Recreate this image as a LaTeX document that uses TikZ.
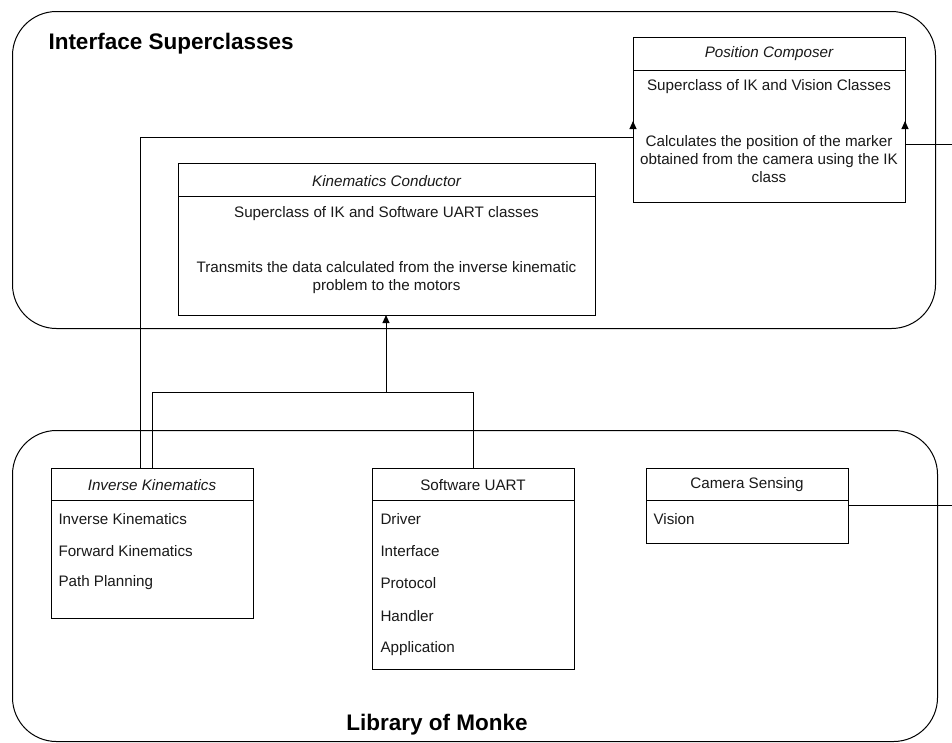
\documentclass[tikz,border=0pt]{standalone}
\usepackage{fontspec}
\setmainfont{Liberation Sans}
\usetikzlibrary{arrows.meta}
\begin{document}
\begin{tikzpicture}[x=1pt,y=-1pt,line width=1pt,
  container/.style={draw, line width=1pt, rounded corners=44pt, anchor=north west, inner sep=0pt},
  classbox/.style={draw, line width=1pt, anchor=north west, inner sep=0pt, fill=white},
  txt/.style={font=\fontsize{15.2}{18}\selectfont, inner sep=0pt, text=black!90, yshift=-1pt},
  itxt/.style={txt, font=\fontsize{15.2}{18}\selectfont\itshape},
  item/.style={txt, anchor=west},
  ttl/.style={font=\fontsize{22.5}{26}\selectfont\bfseries, inner sep=0pt, yshift=-1pt},
  conn/.style={line width=1pt},
  arr/.style={line width=1pt, -{Triangle[length=8pt,width=7pt]}}
]
\useasboundingbox (0,0) rectangle (952,742);

% containers
\node[container, minimum width=923pt, minimum height=317pt] (top) at (12,11) {};
\node[container, minimum width=925pt, minimum height=311pt] (bot) at (12,430) {};
\node[ttl, anchor=west] (toptitle) at (48,43) {Interface Superclasses};
\node[ttl] (bottitle) at (437,724) {Library of Monke};

% Position Composer
\node[classbox, minimum width=272pt, minimum height=165pt] (pc) at (633,37) {};
\draw (633,70) -- (905,70);
\node[itxt] (pct) at (769,53) {Position Composer};
\node[txt] (pc1) at (769,86) {Superclass of IK and Vision Classes};
\node[txt, align=center] (pc2) at (769,158) {Calculates the position of the marker\\obtained from the camera using the IK\\class};

% Kinematics Conductor
\node[classbox, minimum width=417pt, minimum height=152pt] (kc) at (178,163) {};
\draw (178,196) -- (595,196);
\node[itxt] (kct) at (386.5,180) {Kinematics Conductor};
\node[txt] (kc1) at (386.5,213) {Superclass of IK and Software UART classes};
\node[txt, align=center] (kc2) at (386.5,277) {Transmits the data calculated from the inverse kinematic\\problem to the motors};

% Inverse Kinematics
\node[classbox, minimum width=202pt, minimum height=150pt] (ik) at (51,468) {};
\draw (51,500) -- (253,500);
\node[itxt] (ikt) at (152,484) {Inverse Kinematics};
\node[item] (ik1) at (58,518) {Inverse Kinematics};
\node[item] (ik2) at (58,550) {Forward Kinematics};
\node[item] (ik3) at (58,582) {Path Planning};

% Software UART
\node[classbox, minimum width=202pt, minimum height=201pt] (su) at (372,468) {};
\draw (372,500) -- (574,500);
\node[txt] (sut) at (473,484) {Software UART};
\node[item] (su1) at (380,518) {Driver};
\node[item] (su2) at (380,550) {Interface};
\node[item] (su3) at (380,582) {Protocol};
\node[item] (su4) at (380,615) {Handler};
\node[item] (su5) at (380,648) {Application};

% Camera Sensing
\node[classbox, minimum width=202pt, minimum height=75pt] (cs) at (646,468) {};
\draw (646,500) -- (848,500);
\node[txt] (cst) at (747,484) {Camera Sensing};
\node[item] (cs1) at (653,518) {Vision};

% connectors
\coordinate (ikA) at (140,468);
\coordinate (ikB) at (152,468);
\coordinate (ikBup) at (152,392);
\coordinate (suTop) at (473,468);
\coordinate (suUp) at (473,392);
\coordinate (kcIn) at (386,392);
\coordinate (kcBot) at (386,315);
\coordinate (ikUp) at (140,137);
\coordinate (pcL) at (633,137);
\coordinate (pcLtip) at (633,121);
\coordinate (pcR) at (905,144);
\coordinate (pcRtip) at (905,121);
\coordinate (edgeR1) at (952,144);
\coordinate (edgeR2) at (952,505);
\coordinate (csR) at (848,505);

\draw[conn] (ikA) -- (ikUp) -- (pcL);
\draw[arr] (pcL) -- (pcLtip);
\draw[conn] (ikB) -- (ikBup) -- (suUp) -- (suTop);
\draw[arr] (kcIn) -- (kcBot);
\draw[conn] (csR) -- (edgeR2);
\draw[conn] (edgeR1) -- (pcR);
\draw[arr] (pcR) -- (pcRtip);
\end{tikzpicture}
\end{document}
